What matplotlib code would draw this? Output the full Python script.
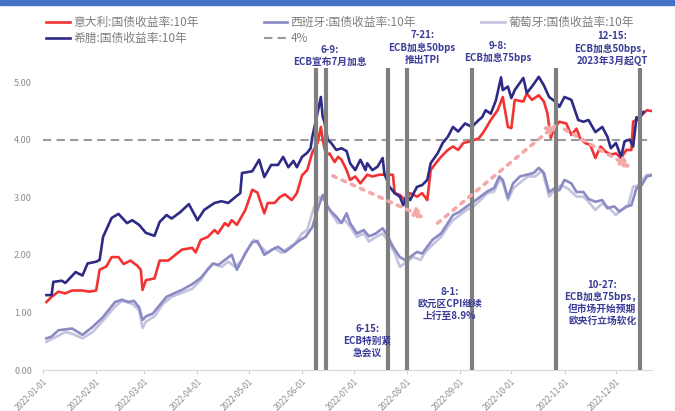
import numpy as np
import pandas as pd
import matplotlib.pyplot as plt
import matplotlib.dates as mdates
from matplotlib.patches import Rectangle

plt.rcParams['font.family'] = ['Noto Sans CJK SC', 'DejaVu Sans']

# 10年期国债收益率 (%)，按2022年内的天数记录
it_days = [2, 5, 9, 13, 17, 23, 27, 31, 33, 37, 40, 44, 47, 51, 55, 57, 58, 60, 65, 68,
           73, 78, 81, 87, 89, 92, 96, 100, 102, 106, 108, 110, 113, 118, 122, 125, 127, 129, 131, 135,
           138, 141, 145, 148, 151, 154, 157, 160, 162, 163, 165, 167, 170, 172, 174, 177, 179, 182, 185, 189,
           192, 196, 201, 204, 205, 208, 211, 214, 218, 221, 224, 226, 229, 232, 236, 239, 242, 245, 249, 254,
           257, 261, 265, 268, 271, 273, 275, 280, 282, 285, 289, 292, 294, 296, 298, 301, 305, 308, 311, 313,
           316, 319, 322, 325, 328, 331, 334, 337, 340, 343, 344, 347, 352, 356]
it_yield = [1.18, 1.27, 1.36, 1.33, 1.38, 1.38, 1.36, 1.38, 1.74, 1.80, 1.96, 1.96, 1.84, 1.90, 1.81, 1.74, 1.39, 1.56, 1.59, 1.90,
            1.90, 2.02, 2.09, 2.12, 2.04, 2.26, 2.31, 2.43, 2.37, 2.55, 2.50, 2.60, 2.52, 2.78, 3.13, 3.08, 2.90, 2.72, 2.90, 2.90,
            3.00, 3.05, 2.95, 3.07, 3.38, 3.47, 3.78, 3.94, 4.22, 4.00, 3.73, 3.76, 3.61, 3.70, 3.65, 3.47, 3.30, 3.36, 3.24, 3.39,
            3.36, 3.39, 3.39, 3.39, 3.07, 3.04, 2.95, 3.07, 3.01, 3.07, 2.95, 3.47, 3.59, 3.70, 3.82, 3.88, 3.82, 3.94, 3.97, 4.02,
            4.14, 4.34, 4.51, 4.74, 4.22, 4.20, 4.69, 4.66, 4.80, 4.69, 4.77, 4.66, 4.46, 4.03, 4.20, 4.31, 4.28, 4.08, 4.19, 4.03,
            3.94, 3.91, 3.68, 3.88, 3.79, 3.74, 3.76, 3.68, 3.82, 3.82, 4.31, 4.37, 4.51, 4.49]

gr_days = [2, 5, 6, 11, 13, 19, 23, 26, 31, 33, 35, 40, 44, 49, 52, 56, 60, 65, 68, 72,
           75, 80, 85, 89, 90, 94, 100, 104, 108, 112, 115, 116, 122, 126, 129, 133, 137, 140, 143, 146,
           148, 151, 154, 156, 157, 160, 162, 163, 164, 166, 168, 171, 174, 177, 179, 182, 185, 188, 189, 192,
           195, 198, 199, 202, 205, 208, 210, 212, 214, 218, 221, 224, 226, 230, 233, 236, 239, 242, 246, 250,
           254, 256, 258, 261, 264, 267, 268, 271, 273, 275, 280, 282, 285, 289, 292, 295, 299, 301, 304, 308,
           312, 315, 318, 322, 326, 329, 331, 334, 337, 339, 342, 344, 346, 347, 350]
gr_yield = [1.30, 1.30, 1.53, 1.55, 1.51, 1.70, 1.64, 1.85, 1.88, 1.91, 2.31, 2.64, 2.71, 2.55, 2.60, 2.52, 2.38, 2.33, 2.57, 2.69,
            2.63, 2.74, 2.88, 2.66, 2.60, 2.78, 2.90, 2.93, 2.90, 3.00, 3.07, 3.42, 3.45, 3.65, 3.35, 3.56, 3.56, 3.70, 3.52, 3.63,
            3.52, 3.70, 3.77, 3.85, 4.05, 4.46, 4.74, 4.40, 4.31, 4.00, 3.94, 3.82, 3.85, 3.80, 3.59, 3.47, 3.65, 3.47, 3.59, 3.47,
            3.53, 3.68, 3.41, 3.18, 3.07, 3.01, 2.86, 3.04, 2.95, 3.18, 3.21, 3.30, 3.59, 3.76, 3.94, 4.05, 4.22, 4.14, 4.28, 4.22,
            4.34, 4.39, 4.51, 4.45, 4.68, 5.08, 4.86, 4.92, 4.72, 4.86, 5.07, 4.81, 4.92, 5.09, 4.94, 4.74, 4.65, 4.57, 4.74, 4.69,
            4.34, 4.31, 4.34, 4.13, 4.22, 4.05, 3.85, 3.94, 3.70, 3.97, 4.00, 3.88, 4.39, 4.34, 4.48]

es_days = [2, 5, 9, 17, 23, 29, 35, 42, 46, 50, 53, 56, 58, 60, 64, 67, 72, 77, 81, 87,
           92, 96, 99, 102, 106, 110, 113, 118, 122, 125, 129, 133, 137, 141, 145, 149, 153, 157, 160, 163,
           166, 168, 171, 174, 177, 179, 183, 187, 190, 194, 198, 201, 204, 208, 211, 214, 218, 221, 224, 227,
           232, 236, 239, 243, 247, 251, 255, 259, 263, 266, 268, 271, 274, 278, 282, 286, 289, 292, 295, 298,
           301, 304, 308, 311, 315, 318, 322, 326, 329, 333, 336, 340, 343, 346, 349, 352, 356]
es_yield = [0.55, 0.58, 0.69, 0.72, 0.61, 0.75, 0.92, 1.18, 1.22, 1.18, 1.20, 1.09, 0.87, 0.93, 0.98, 1.09, 1.27, 1.34, 1.39, 1.49,
            1.60, 1.74, 1.85, 1.82, 1.91, 2.00, 1.74, 2.03, 2.22, 2.24, 2.00, 2.08, 2.14, 2.05, 2.14, 2.24, 2.31, 2.48, 2.78, 3.04,
            2.83, 2.75, 2.66, 2.55, 2.72, 2.55, 2.37, 2.43, 2.32, 2.37, 2.46, 2.32, 2.14, 1.96, 1.91, 1.96, 2.05, 2.02, 2.14, 2.26,
            2.37, 2.55, 2.69, 2.75, 2.84, 2.92, 3.01, 3.10, 3.16, 3.36, 3.30, 2.99, 3.24, 3.36, 3.39, 3.42, 3.51, 3.42, 3.09, 3.15,
            3.12, 3.30, 3.24, 3.09, 3.09, 2.97, 2.92, 2.95, 2.81, 2.84, 2.75, 2.84, 2.86, 3.16, 3.21, 3.36, 3.39]

pt_days = [2, 8, 13, 17, 23, 29, 35, 42, 46, 52, 56, 58, 60, 65, 70, 75, 81, 87, 92, 96,
           100, 104, 108, 112, 116, 119, 123, 127, 131, 135, 139, 143, 147, 151, 154, 158, 161, 164, 168, 172,
           176, 179, 183, 187, 190, 194, 198, 202, 205, 208, 212, 216, 220, 223, 227, 232, 236, 239, 243, 247,
           251, 255, 259, 263, 266, 268, 271, 274, 280, 283, 287, 291, 295, 298, 302, 306, 311, 315, 318, 322,
           326, 330, 334, 337, 341, 344, 347, 352, 356]
pt_yield = [0.49, 0.58, 0.66, 0.63, 0.55, 0.66, 0.86, 1.10, 1.20, 1.15, 1.04, 0.73, 0.84, 0.93, 1.15, 1.27, 1.34, 1.41, 1.56, 1.76,
            1.85, 1.79, 1.88, 1.79, 1.91, 2.08, 2.26, 2.14, 2.03, 2.12, 2.03, 2.12, 2.20, 2.37, 2.43, 2.83, 3.00, 2.95, 2.72, 2.55,
            2.60, 2.49, 2.31, 2.37, 2.23, 2.31, 2.37, 2.20, 2.03, 1.79, 1.88, 1.96, 1.91, 2.05, 2.17, 2.31, 2.49, 2.60, 2.69, 2.78,
            2.84, 2.95, 3.07, 3.10, 3.30, 3.27, 2.95, 3.15, 3.30, 3.36, 3.36, 3.47, 3.01, 3.12, 3.21, 3.15, 3.01, 3.01, 2.92, 2.78,
            2.89, 2.81, 2.69, 2.78, 2.84, 3.18, 3.21, 3.39, 3.39]

# ECB事件
event_dates = ['2022-06-09', '2022-06-15', '2022-07-21', '2022-08-01', '2022-09-08', '2022-10-27', '2022-12-15']
event_notes = [
    ('2022-06-17', 5.45, '6-9:\nECB宣布7月加息'),
    ('2022-07-09', 0.51, '6-15:\nECB特别紧\n急会议'),
    ('2022-08-10', 5.60, '7-21:\nECB加息50bps\n推出TPI'),
    ('2022-08-26', 1.14, '8-1:\n欧元区CPI继续\n上行至8.9%'),
    ('2022-09-23', 5.52, '9-8:\nECB加息75bps'),
    ('2022-11-23', 1.16, '10-27:\nECB加息75bps，\n但市场开始预期\n欧央行立场软化'),
    ('2022-11-29', 5.58, '12-15:\nECB加息50bps，\n2023年3月起QT'),
]
# 趋势箭头 (起点, 终点)
trend_arrows = [
    (('2022-06-19', 3.37), ('2022-08-12', 2.64)),
    (('2022-08-19', 2.55), ('2022-10-28', 4.28)),
    (('2022-11-01', 4.18), ('2022-12-10', 3.51)),
]


def to_dates(days):
    return pd.Timestamp('2022-01-01') + pd.to_timedelta(days, unit='D')


fig = plt.figure(figsize=(6.75, 4.11), dpi=100)
fig.patches.append(Rectangle((0, 1 - 5 / 411), 1, 5 / 411, transform=fig.transFigure,
                             color='#4472C4', zorder=0))
ax = fig.add_axes([43 / 675, 41 / 411, 609 / 675, 330 / 411])

pt_line, = ax.plot(to_dates(pt_days), pt_yield, color='#C3C3DF', lw=1.9, label='葡萄牙:国债收益率:10年')
es_line, = ax.plot(to_dates(es_days), es_yield, color='#8A8AC4', lw=1.9, label='西班牙:国债收益率:10年')
it_line, = ax.plot(to_dates(it_days), it_yield, color='#F23333', lw=1.9, label='意大利:国债收益率:10年')
gr_line, = ax.plot(to_dates(gr_days), gr_yield, color='#2E2B86', lw=1.9, label='希腊:国债收益率:10年')
ref_line = ax.axhline(4, color='#9A9A9A', lw=1.5, ls=(0, (4, 2.5)), label='4%', zorder=1)

ax.vlines(pd.to_datetime(event_dates), 0, 5.25, color='#7F7F7F', lw=3, zorder=3)

for (x0, y0), (x1, y1) in trend_arrows:
    ax.annotate('', xy=(pd.Timestamp(x1), y1), xytext=(pd.Timestamp(x0), y0),
                arrowprops=dict(arrowstyle='-|>', color='#F5A8A8', lw=2.6,
                                ls=(0, (1, 1.8)), mutation_scale=15, shrinkA=0, shrinkB=0),
                zorder=4)

for x, y, txt in event_notes:
    ax.text(pd.Timestamp(x), y, txt, ha='center', va='center', fontsize=7, color='#3B3B98',
            fontweight='bold', linespacing=1.25, clip_on=False, zorder=5)

ax.set_xlim(pd.Timestamp('2022-01-01'), pd.Timestamp('2022-12-22'))
ax.set_ylim(0, 330 / 57.6)
ax.set_yticks(np.arange(0, 6, 1))
ax.yaxis.set_major_formatter(plt.FuncFormatter(lambda v, p: f'{v:.2f}'))
ax.xaxis.set_major_locator(mdates.MonthLocator())
ax.xaxis.set_major_formatter(mdates.DateFormatter('%Y-%m-%d'))
for lab in ax.get_xticklabels():
    lab.set_rotation(45)
    lab.set_ha('right')
    lab.set_rotation_mode('anchor')
ax.tick_params(axis='x', colors='#D0D0D0', labelcolor='#8C8C8C', labelsize=5.8, length=3, pad=2)
ax.tick_params(axis='y', length=0, labelcolor='#8C8C8C', labelsize=6.5, pad=8)
for side in ['top', 'right', 'left']:
    ax.spines[side].set_visible(False)
ax.spines['bottom'].set_color('#D9D9D9')

fig.legend(handles=[it_line, gr_line, es_line, ref_line, pt_line], ncol=3,
           loc='upper left', bbox_to_anchor=(46 / 675, 1 - 16 / 411), frameon=False,
           fontsize=8.5, labelcolor='#7F7F7F', handlelength=2.0, handletextpad=0.3,
           columnspacing=5.5, labelspacing=0.25, borderpad=0, borderaxespad=0)

fig.savefig('out.png', dpi=100)
